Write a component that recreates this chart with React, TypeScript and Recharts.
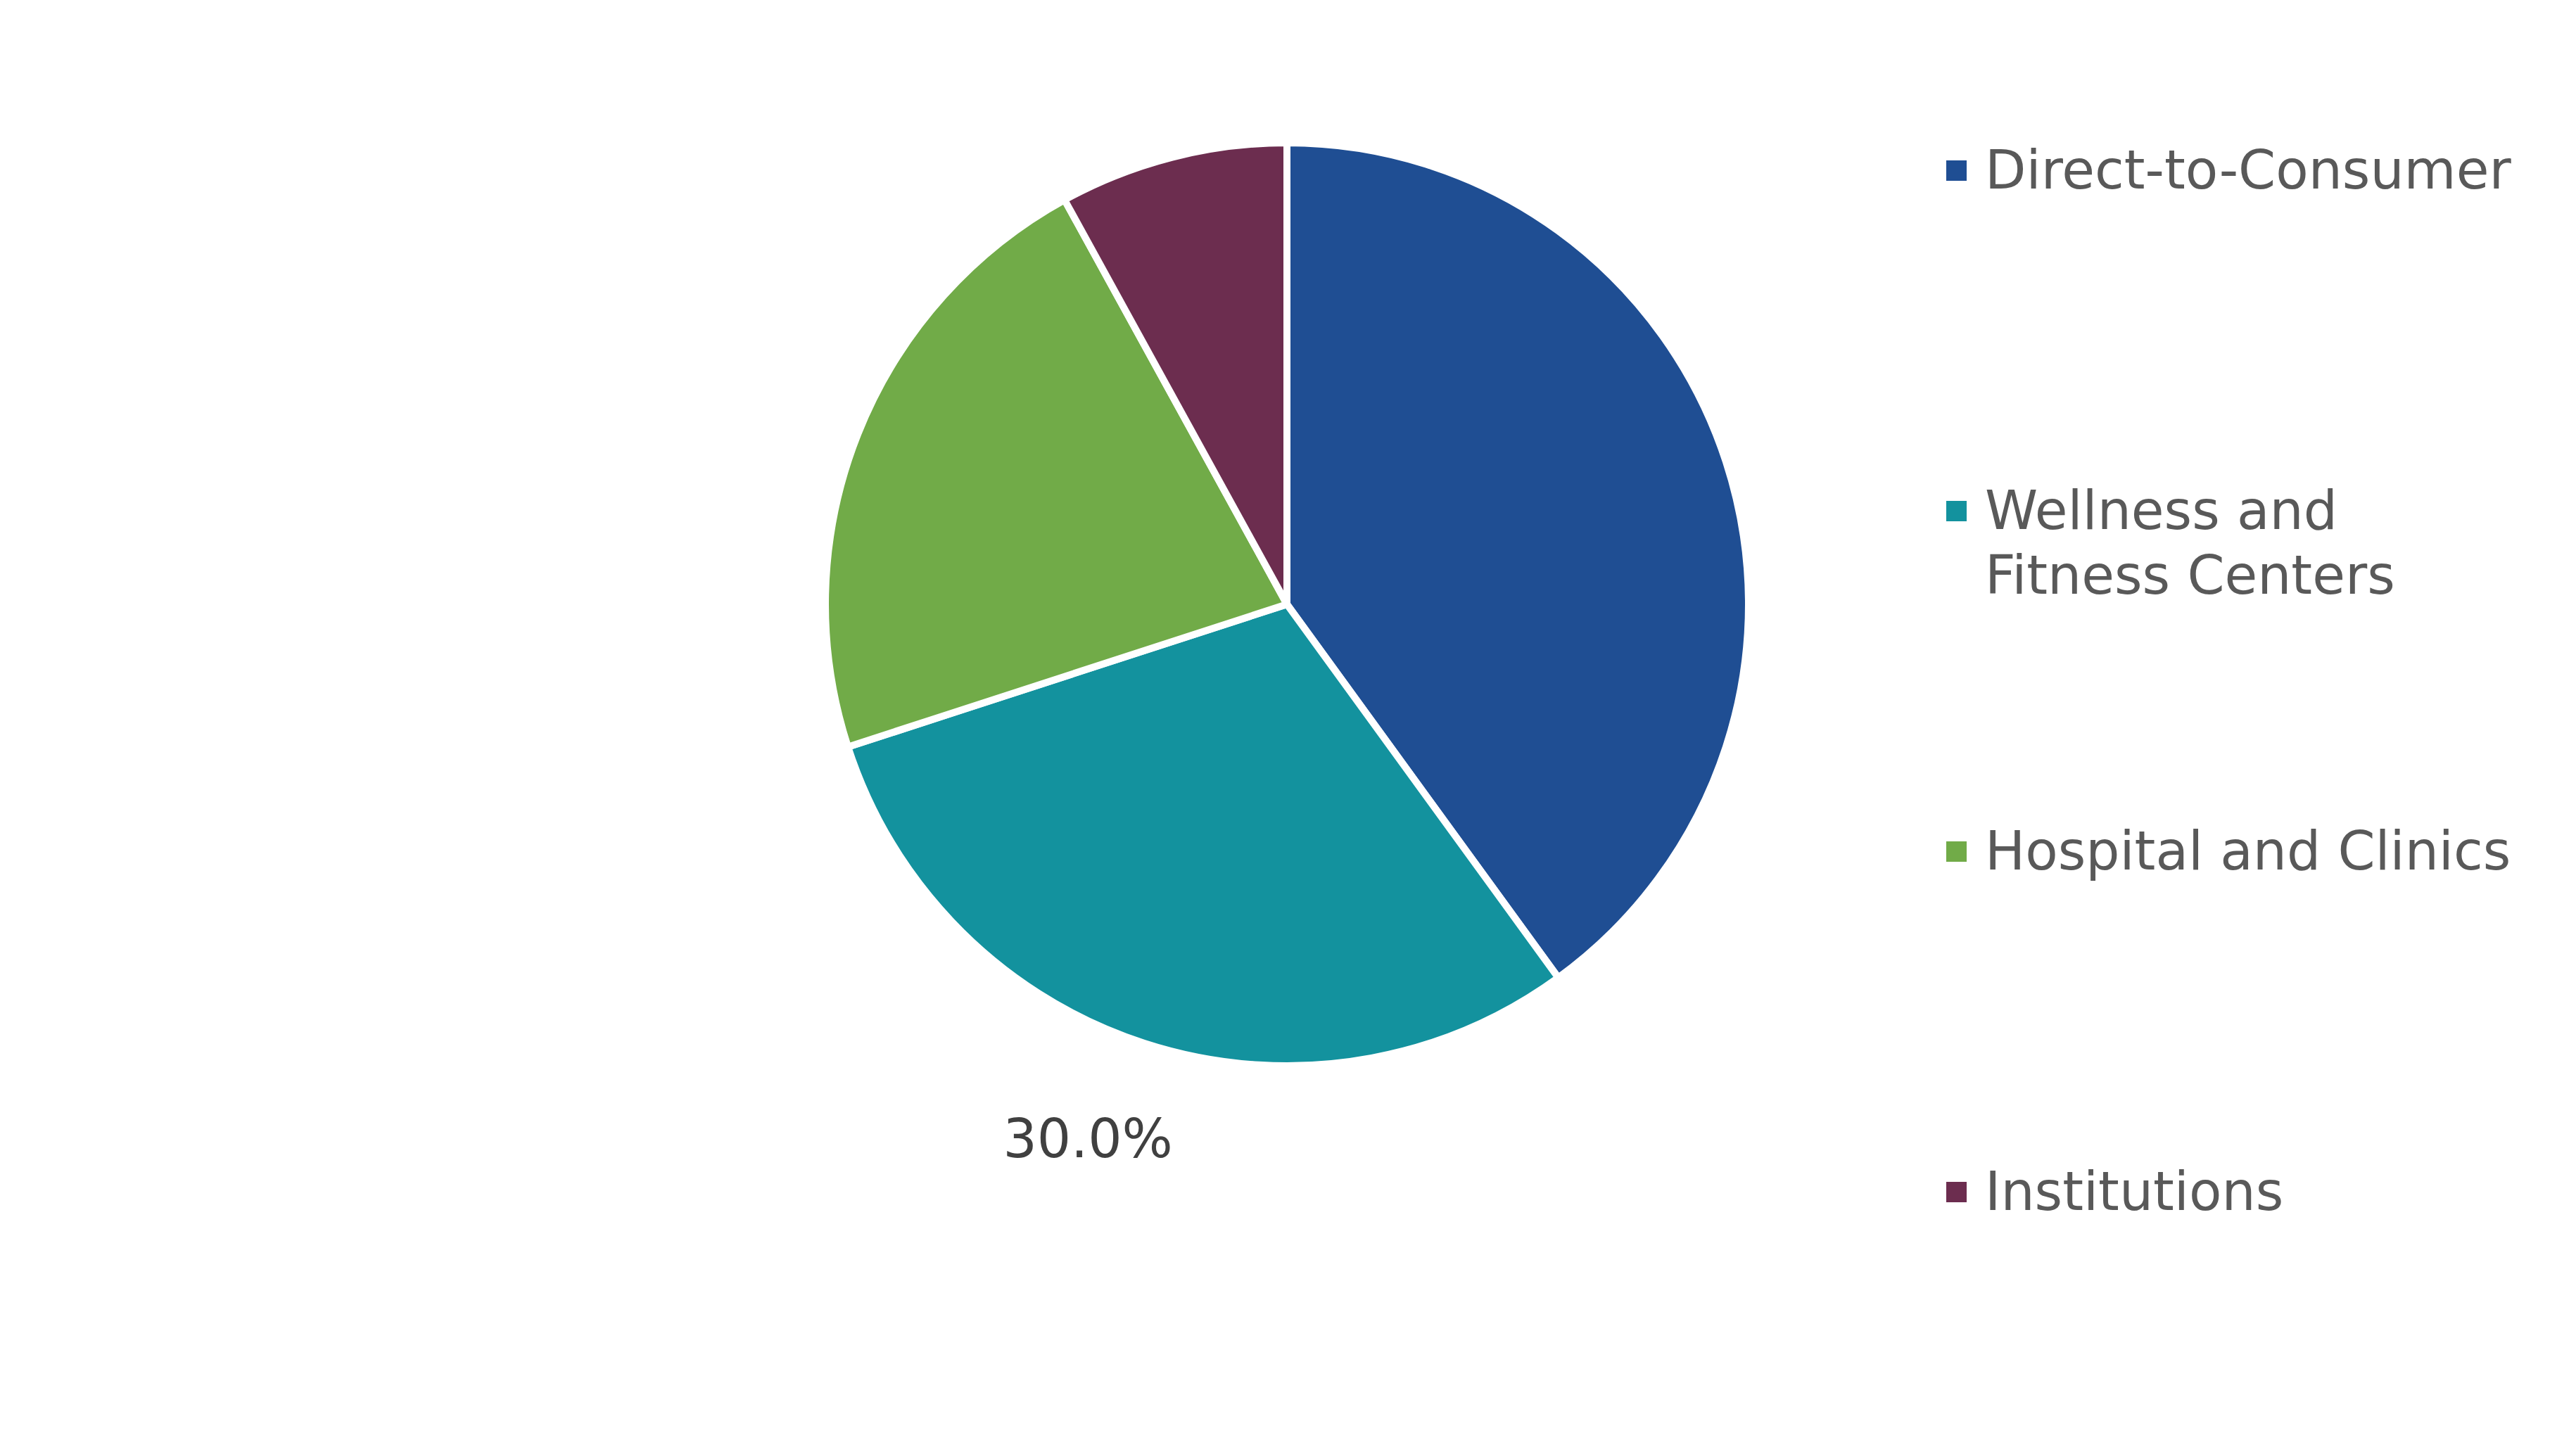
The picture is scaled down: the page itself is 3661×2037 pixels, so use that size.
import React from "react";
import { PieChart, Pie, Cell, Legend } from "recharts";

const channels = [
  "Direct-to-Consumer",
  "Wellness and Fitness Centers",
  "Hospital and Clinics",
  "Institutions",
];
const shares = [40, 30, 22, 8];
const colors = ["#1F4E93", "#13929E", "#71AB48", "#6C2D4F"];
// only this slice carries a data label in the source
const labelledIndex = 1;

const data = channels.map((name, i) => ({ name, value: shares[i] }));

const FONT = "'DejaVu Sans', Verdana, sans-serif";
const RADIAN = Math.PI / 180;

const renderLabel = (props: any) => {
  const { cx, cy, midAngle, outerRadius, percent, index } = props;
  if (index !== labelledIndex) return null;
  const r = outerRadius + 143;
  const x = cx + r * Math.cos(-midAngle * RADIAN) - 36;
  const y = cy + r * Math.sin(-midAngle * RADIAN);
  return (
    <text
      x={x}
      y={y}
      fill="#404040"
      fontSize={76}
      fontFamily={FONT}
      textAnchor="middle"
      dominantBaseline="central"
    >
      {`${(percent * 100).toFixed(1)}%`}
    </text>
  );
};

const LegendContent = () => (
  <div style={{ fontFamily: FONT, fontSize: 76, color: "#595959" }}>
    {data.map((d, i) => (
      <div
        key={d.name}
        style={{ height: 484, display: "flex", alignItems: "flex-start" }}
      >
        <span
          style={{
            width: 29,
            height: 29,
            marginTop: 32,
            marginRight: 26,
            flex: "none",
            backgroundColor: colors[i],
          }}
        />
        <span style={{ width: 765, lineHeight: "92px" }}>{d.name}</span>
      </div>
    ))}
  </div>
);

export default function App() {
  return (
    <div style={{ position: "absolute", left: 0, top: 0, width: 3661, height: 2037, background: "#fff" }}>
      <PieChart width={3661} height={2037} margin={{ top: 0, right: 0, bottom: 0, left: 0 }}>
        <Pie
          data={data}
          dataKey="value"
          nameKey="name"
          cx={1829}
          cy={859}
          outerRadius={656}
          startAngle={90}
          endAngle={-270}
          stroke="#ffffff"
          strokeWidth={10}
          label={renderLabel}
          labelLine={false}
          isAnimationActive={false}
        >
          {data.map((d, i) => (
            <Cell key={d.name} fill={colors[i]} />
          ))}
        </Pie>
        <Legend
          content={<LegendContent />}
          layout="vertical"
          wrapperStyle={{ left: 2766, top: 196, width: 850 }}
        />
      </PieChart>
    </div>
  );
}
